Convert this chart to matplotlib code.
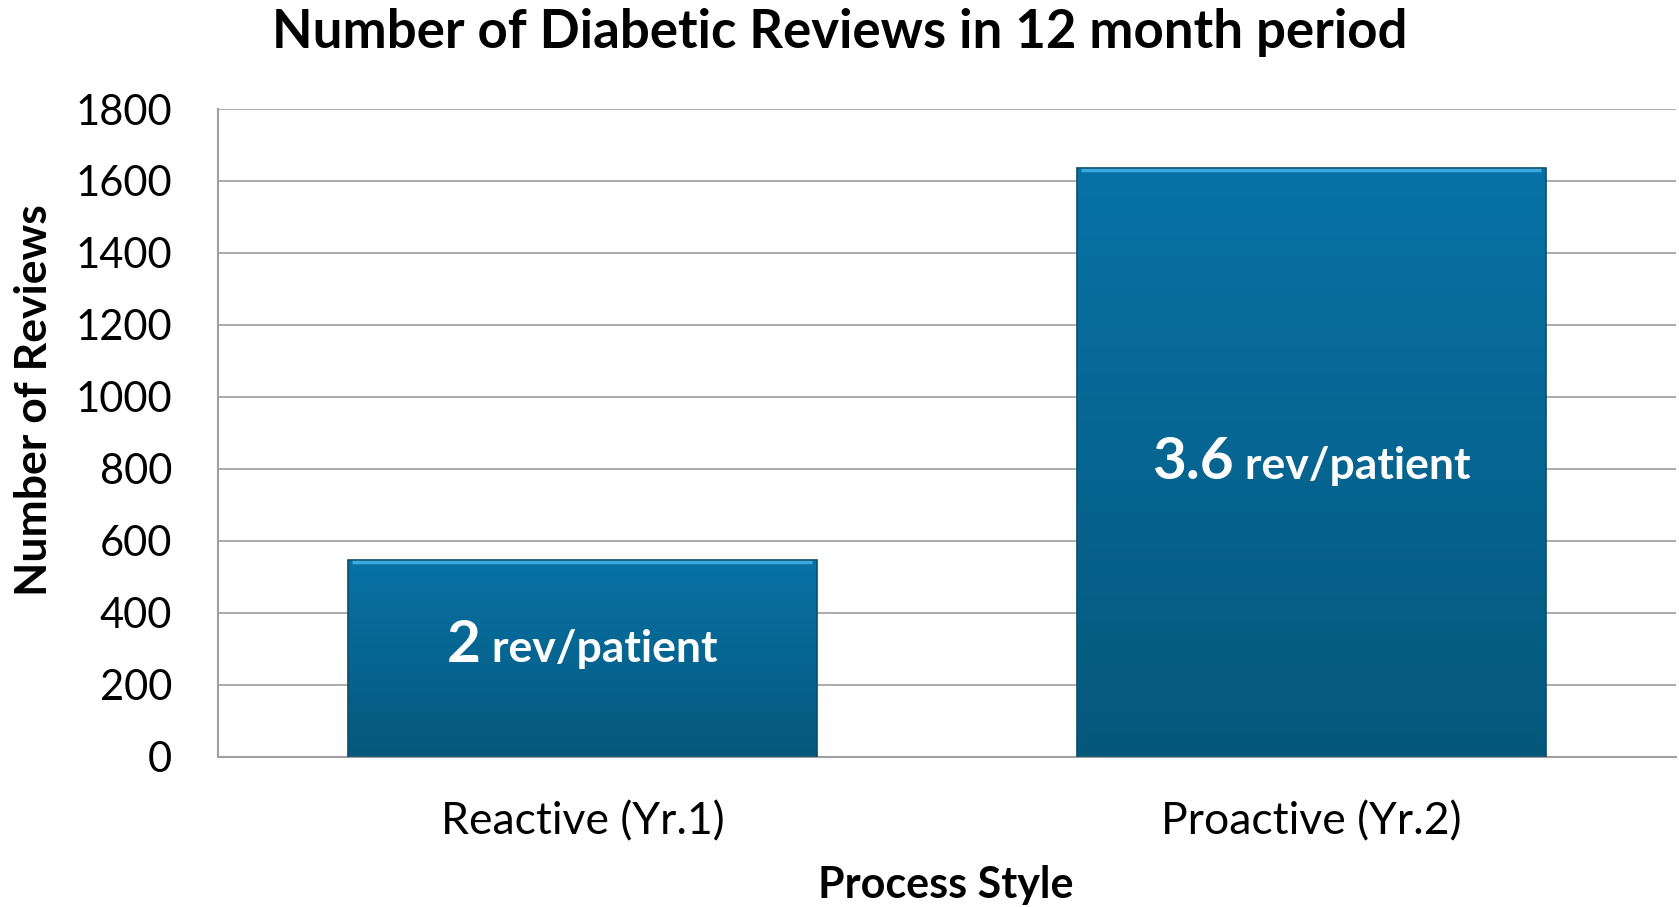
import matplotlib
matplotlib.use("Agg")
import matplotlib.pyplot as plt
import numpy as np

plt.rcParams['font.family'] = ['Lato', 'DejaVu Sans']

# data
categories = ["Reactive (Yr.1)", "Proactive (Yr.2)"]
reviews = [547, 1636]
rate_numbers = ["2", "3.6"]
rate_suffix = " rev/patient"
label_heights = [264, 772]   # baseline of the rate text (in review units)
yticks = np.arange(0, 1801, 200)

fig = plt.figure(figsize=(16.79, 9.07), dpi=100)
ax = fig.add_axes([0.1298, 0.1657, 0.8682, 0.7141])

x = np.arange(len(categories))
bars = ax.bar(x, reviews, width=0.643, color='none', edgecolor='#0b4d6b', linewidth=1.2, zorder=3)

# vertical gradient fill, clipped to each bar
grad = np.linspace(0, 1, 256).reshape(-1, 1)
cmap = matplotlib.colors.LinearSegmentedColormap.from_list('bar', ['#05587c', '#0872a6'])
for b in bars:
    x0, y0 = b.get_x(), b.get_y()
    w, h = b.get_width(), b.get_height()
    im = ax.imshow(grad, extent=[x0, x0 + w, y0, y0 + h], origin='lower', cmap=cmap,
                   aspect='auto', zorder=2)
    im.set_clip_path(b)
    # light bevel along the top
    ax.plot([x0 + 0.006, x0 + w - 0.006], [y0 + h - 6, y0 + h - 6], color='#3fa9dd',
            lw=2.5, zorder=4, solid_capstyle='butt')

ax.set_xlim(-0.5, 1.5)
ax.set_ylim(0, 1800)
ax.set_yticks(yticks)
ax.set_xticks(x)
ax.set_xticklabels(categories, fontsize=32)
ax.tick_params(axis='y', length=0, pad=33, labelsize=30)
ax.tick_params(axis='x', length=0, pad=32)
ax.grid(axis='y', color='#a5a5a5', lw=1.3, zorder=0)
ax.set_axisbelow(True)
for s in ['top', 'right']:
    ax.spines[s].set_visible(False)
for s in ['left', 'bottom']:
    ax.spines[s].set_color('#a0a0a0')
    ax.spines[s].set_linewidth(1.5)

fig.text(0.5, 0.964, "Number of Diabetic Reviews in 12 month period", ha='center', va='center',
         fontsize=38, fontweight='bold')
fig.text(0.02, 0.559, "Number of Reviews", rotation=90, ha='center', va='center',
         fontsize=32, fontweight='bold')
fig.text(0.563, 0.0243, "Process Style", ha='center', va='center', fontsize=31, fontweight='bold')

# rate labels: big number + smaller suffix, centred together on the bar
pairs = []
for i in range(len(categories)):
    t1 = ax.annotate(rate_numbers[i], xy=(x[i], label_heights[i]), xytext=(0, 0),
                     textcoords='offset pixels', ha='left', va='baseline',
                     fontsize=42, fontweight='bold', color='white', zorder=5)
    t2 = ax.annotate(rate_suffix, xy=(x[i], label_heights[i]), xytext=(0, 0),
                     textcoords='offset pixels', ha='left', va='baseline',
                     fontsize=32, fontweight='bold', color='white', zorder=5)
    pairs.append((t1, t2))

fig.canvas.draw()
r = fig.canvas.get_renderer()
for t1, t2 in pairs:
    w1 = t1.get_window_extent(r).width
    w2 = t2.get_window_extent(r).width
    total = w1 + w2
    t1.xyann = (-total / 2, 0)
    t2.xyann = (-total / 2 + w1, 0)

fig.savefig("out.png", dpi=100)
